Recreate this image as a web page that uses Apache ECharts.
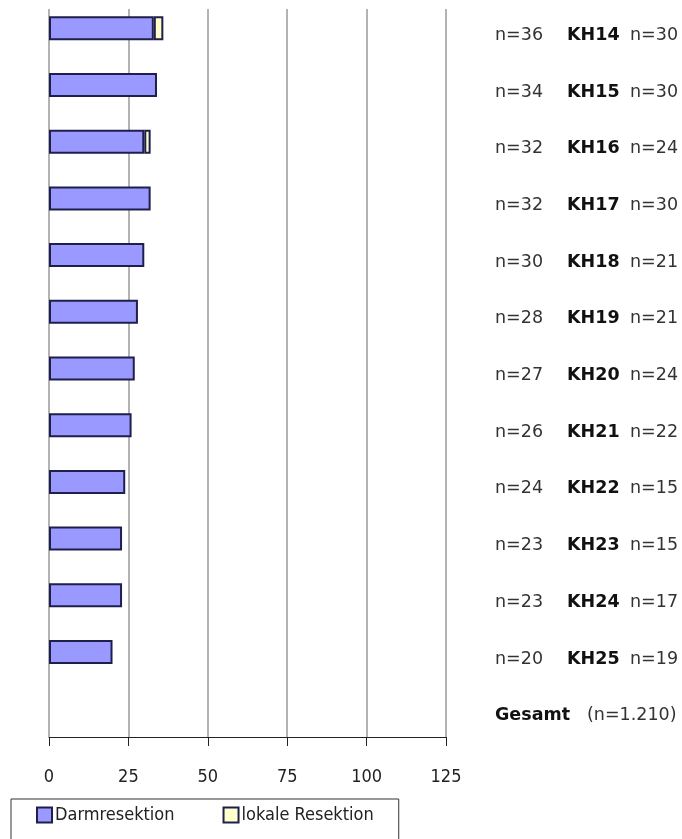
<!DOCTYPE html>
<html>
<head>
<meta charset="utf-8">
<script src="https://cdn.jsdelivr.net/npm/echarts@6/dist/echarts.min.js"></script>
<style>
  html, body { margin: 0; padding: 0; background: #fff; }
  #chart { width: 682px; height: 839px; }
</style>
</head>
<body>
<div id="chart"></div>
<script>
const categories = ['KH14', 'KH15', 'KH16', 'KH17', 'KH18', 'KH19', 'KH20', 'KH21', 'KH22', 'KH23', 'KH24', 'KH25', 'Gesamt']
const darmresektion = [33, 34, 30, 32, 30, 28, 27, 26, 24, 23, 23, 20, null]
const lokaleResektion = [3, 0, 2, 0, 0, 0, 0, 0, 0, 0, 0, 0, null]
const nLeft = [36, 34, 32, 32, 30, 28, 27, 26, 24, 23, 23, 20]
const nRight = [30, 30, 24, 30, 21, 21, 24, 22, 15, 15, 17, 19]
const gesamtN = '1.210'
const xTicks = [0, 25, 50, 75, 100, 125]

const NARROW = '"DejaVu Sans Condensed", "Liberation Sans Narrow", "Liberation Sans", Arial, sans-serif'
const LABEL_FONT = '"DejaVu Sans", Arial, sans-serif'
const BORDER = '#1f1f4c'

const chart = echarts.init(document.getElementById('chart'))

chart.setOption({
  animation: false,
  backgroundColor: '#ffffff',
  grid: { left: 49, right: 236, top: -6, bottom: 102, containLabel: false },
  legend: {
    left: 11,
    top: 799,
    padding: [7, 25, 20, 25],
    itemGap: 48,
    itemWidth: 15,
    itemHeight: 15,
    icon: 'rect',
    borderColor: '#333',
    borderWidth: 1,
    textStyle: { fontFamily: NARROW, fontSize: 18, color: '#222', padding: [0, 0, 0, -2] },
    data: ['Darmresektion', 'lokale Resektion']
  },
  xAxis: {
    type: 'value',
    min: xTicks[0],
    max: xTicks[xTicks.length - 1],
    interval: 25,
    axisLine: { show: true, lineStyle: { color: '#222', width: 1 } },
    axisTick: { show: true, length: 9, lineStyle: { color: '#222' } },
    axisLabel: { margin: 31, fontFamily: NARROW, fontSize: 18, color: '#222' },
    splitLine: { show: true, lineStyle: { color: '#9a9a9a', width: 1.5 } }
  },
  yAxis: {
    type: 'category',
    data: categories,
    inverse: true,
    position: 'right',
    axisLine: { show: false },
    axisTick: { show: false },
    splitLine: { show: false },
    axisLabel: {
      margin: 49,
      align: 'left',
      padding: [14, 0, 0, 0],
      fontFamily: LABEL_FONT,
      fontSize: 17,
      formatter: (value, i) => i < nLeft.length
        ? `{n|n=${nLeft[i]}}{kh|${value}}{n2|n=${nRight[i]}}`
        : `{g|${value}}{n2|(n=${gesamtN})}`,
      rich: {
        n: { width: 72, align: 'left', fontFamily: LABEL_FONT, fontSize: 17.5, color: '#333' },
        kh: { width: 63, align: 'left', fontFamily: LABEL_FONT, fontSize: 17.5, fontWeight: 'bold', color: '#111' },
        n2: { align: 'left', fontFamily: LABEL_FONT, fontSize: 17.5, color: '#333' },
        g: { width: 92, align: 'left', fontFamily: LABEL_FONT, fontSize: 17.5, fontWeight: 'bold', color: '#111' }
      }
    }
  },
  series: [
    {
      name: 'Darmresektion',
      type: 'bar',
      stack: 'total',
      barWidth: 24,
      data: darmresektion,
      itemStyle: { color: '#9999ff', borderColor: BORDER, borderWidth: 2 }
    },
    {
      name: 'lokale Resektion',
      type: 'bar',
      stack: 'total',
      barWidth: 24,
      data: lokaleResektion.map(v => (v === 0 ? null : v)),
      itemStyle: { color: '#ffffcc', borderColor: BORDER, borderWidth: 2 }
    }
  ],
  graphic: [
    // the source picture is cut just above the first bar
    { type: 'rect', left: 0, top: 0, z: 100, shape: { width: 682, height: 9 }, style: { fill: '#fff' } }
  ]
})
</script>
</body>
</html>
